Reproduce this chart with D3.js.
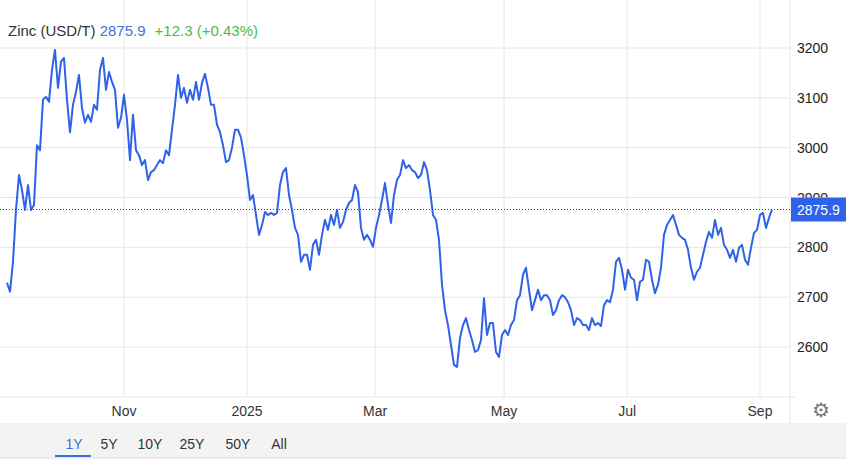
<!DOCTYPE html><html><head><meta charset="utf-8"><script src="https://cdn.jsdelivr.net/npm/d3@7"></script>
<style>body{margin:0;background:#fff;font-family:Arial,"Liberation Sans",sans-serif}</style></head><body><svg id="c" width="846" height="462"></svg>
<script>
const values=[2729,2711,2771,2875,2945,2915,2875,2925,2875,2885,3005,2995,3096,3102,3092,3156,3196,3120,3172,3180,3096,3031,3086,3112,3146,3080,3050,3066,3052,3086,3076,3156,3180,3116,3152,3132,3116,3040,3060,3106,3056,2975,3066,2995,2985,2965,2975,2935,2951,2955,2965,2975,2969,2995,2985,3036,3086,3146,3100,3120,3090,3116,3096,3132,3096,3130,3148,3120,3086,3086,3046,3031,3005,2971,2975,3000,3036,3036,3020,2985,2945,2895,2905,2865,2825,2845,2871,2865,2869,2865,2869,2925,2951,2959,2905,2875,2839,2825,2771,2785,2785,2755,2805,2815,2785,2825,2855,2835,2865,2845,2875,2839,2851,2875,2889,2895,2925,2911,2839,2815,2825,2815,2801,2839,2865,2895,2929,2885,2849,2905,2935,2945,2975,2959,2965,2955,2951,2939,2945,2971,2955,2915,2865,2855,2815,2725,2674,2644,2604,2564,2560,2618,2644,2658,2634,2614,2590,2594,2614,2698,2624,2648,2648,2590,2580,2624,2634,2624,2644,2654,2694,2704,2745,2759,2715,2674,2694,2715,2694,2704,2704,2694,2664,2674,2694,2704,2700,2690,2674,2644,2658,2654,2644,2644,2634,2658,2644,2648,2642,2684,2694,2690,2715,2771,2779,2755,2715,2755,2739,2735,2694,2731,2735,2775,2771,2735,2708,2725,2759,2825,2845,2855,2865,2845,2825,2819,2815,2795,2759,2735,2751,2759,2785,2811,2831,2819,2855,2825,2839,2805,2795,2779,2795,2771,2799,2805,2775,2765,2799,2829,2835,2865,2869,2839,2859,2875.9];
const xTickLabels=["Nov","2025","Mar","May","Jul","Sep"];
const xTickIndex=[39,80,122.7,165.7,206.7,251];
const yTicks=[2600,2700,2800,2900,3000,3100,3200];
const last=2875.9, change="+12.3 (+0.43%)";
const svg=d3.select("#c");
const x=d3.scaleLinear().domain([-2.33,261]).range([0,790]);
const y=d3.scaleLinear().domain([2600,3200]).range([347,48]);
svg.append("g").selectAll("line").data(yTicks).join("line").attr("x1",0).attr("x2",790)
 .attr("y1",d=>y(d)).attr("y2",d=>y(d)).attr("stroke","#e6e6e6");
svg.append("g").selectAll("line").data(xTickIndex).join("line").attr("y1",0).attr("y2",397)
 .attr("x1",d=>x(d)).attr("x2",d=>x(d)).attr("stroke","#e6e6e6");
svg.append("line").attr("x1",0).attr("x2",795).attr("y1",397).attr("y2",397).attr("stroke","#e6e6e6");
svg.append("line").attr("x1",790).attr("x2",790).attr("y1",0).attr("y2",423).attr("stroke","#e6e6e6");
svg.append("clipPath").attr("id","yc").append("rect").attr("x",790).attr("y",0).attr("width",56).attr("height",y(last)-12);
svg.append("g").attr("clip-path","url(#yc)").selectAll("text").data(yTicks.filter(d=>d===2900)).join("text").attr("x",797).attr("y",d=>y(d)+5)
 .attr("font-size",14).attr("fill","#222").text(d=>d);
svg.append("g").selectAll("text").data(yTicks.filter(d=>d!==2900)).join("text").attr("x",797).attr("y",d=>y(d)+5)
 .attr("font-size",14).attr("fill","#222").text(d=>d);
svg.append("g").selectAll("text").data(xTickLabels).join("text").attr("x",(d,i)=>x(xTickIndex[i])).attr("y",416)
 .attr("text-anchor","middle").attr("font-size",14).attr("fill","#333").text(d=>d);
svg.append("path").datum(values).attr("fill","none").attr("stroke","#2f62e8").attr("stroke-width",2).attr("stroke-linejoin","round")
 .attr("d",d3.line().x((d,i)=>x(i)).y(d=>y(d)));
svg.append("line").attr("x1",0).attr("x2",790).attr("y1",y(last)).attr("y2",y(last)).attr("stroke","#2a3f8f").attr("stroke-dasharray","1,2");
svg.append("rect").attr("x",791).attr("y",y(last)-12).attr("width",55).attr("height",24).attr("fill","#2f62e8");
svg.append("text").attr("x",797).attr("y",y(last)+5).attr("font-size",14).attr("fill","#fff").text(last);
const h=svg.append("text").attr("x",8).attr("y",36).attr("font-size",15);
h.append("tspan").attr("fill","#333").text("Zinc (USD/T) ");
h.append("tspan").attr("fill","#4a6fd8").text(last);
h.append("tspan").attr("fill","#4cbb4c").attr("dx",9).text(change);
svg.append("text").attr("x",821).attr("y",417).attr("text-anchor","middle").attr("font-size",20).attr("fill","#777").text("⚙");
svg.append("rect").attr("x",0).attr("y",423).attr("width",846).attr("height",35).attr("fill","#f3f3f3");
svg.append("line").attr("x1",0).attr("x2",846).attr("y1",458).attr("y2",458).attr("stroke","#ddd");
const btn=["1Y","5Y","10Y","25Y","50Y","All"], bx=[74,109,150,192,238,279];
svg.append("g").selectAll("text").data(btn).join("text").attr("x",(d,i)=>bx[i]).attr("y",449).attr("text-anchor","middle")
 .attr("font-size",14).attr("fill",(d,i)=>i?"#333":"#3b6ee0").text(d=>d);
svg.append("rect").attr("x",55).attr("y",455).attr("width",36).attr("height",2).attr("fill","#3b6ee0");
</script></body></html>
